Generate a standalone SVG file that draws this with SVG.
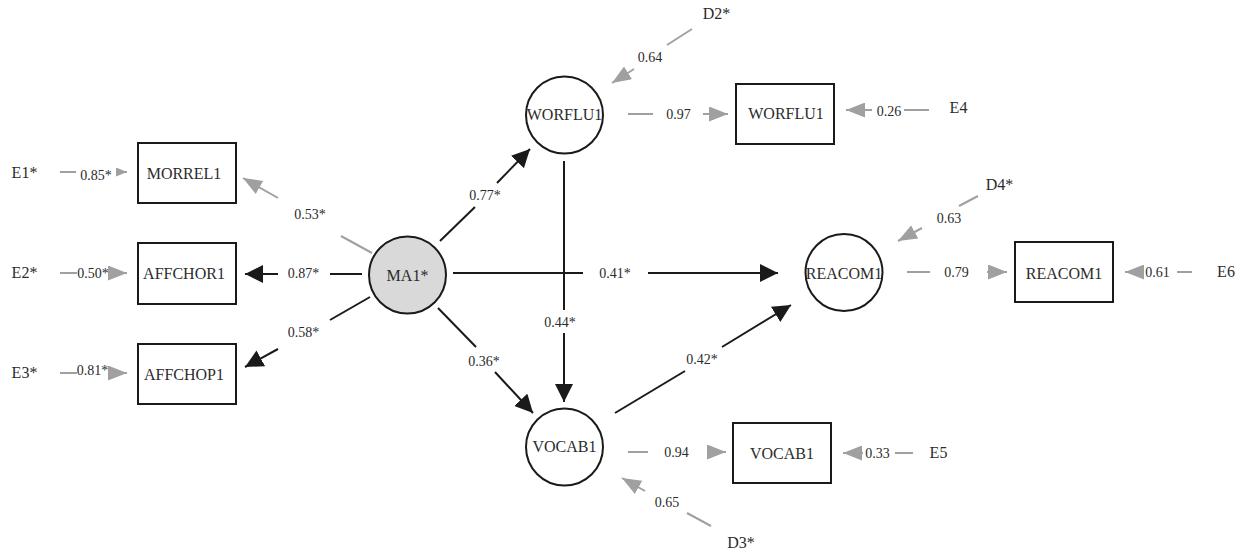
<svg xmlns="http://www.w3.org/2000/svg" width="1249" height="554" viewBox="0 0 1249 554">
<defs>
<marker id="ab" markerUnits="userSpaceOnUse" markerWidth="18" markerHeight="18" refX="18" refY="9" orient="auto"><path d="M0,0 L18,9 L0,18 z" fill="#1a1a1a"/></marker>
<marker id="ag" markerUnits="userSpaceOnUse" markerWidth="19" markerHeight="15" refX="19" refY="7.5" orient="auto"><path d="M0,0 L19,7.5 L0,15 z" fill="#a0a0a0"/></marker>
<marker id="as" markerUnits="userSpaceOnUse" markerWidth="11" markerHeight="9" refX="11" refY="4.5" orient="auto"><path d="M0,0 L11,4.5 L0,9 z" fill="#a0a0a0"/></marker>
</defs>
<style>
text{font-family:"Liberation Serif","Times New Roman",serif;fill:#2b2b2b;text-anchor:middle}
.n{font-size:16px}
.c{font-size:14px}
.box{fill:#fff;stroke:#1a1a1a;stroke-width:2}
.lat{fill:#fff;stroke:#1a1a1a;stroke-width:2}
.bl{stroke:#1a1a1a;stroke-width:2;fill:none}
.gl{stroke:#a0a0a0;stroke-width:2;fill:none}
</style>
<rect width="1249" height="554" fill="#fff"/>
<g id="connectors">
<!-- E1 -->
<line class="gl" x1="60" y1="172" x2="76" y2="172"/>
<text class="c" x="96" y="180">0.85*</text>
<line class="gl" x1="116" y1="172" x2="127" y2="172" marker-end="url(#as)"/>
<!-- E2 -->
<line class="gl" x1="60" y1="273" x2="77" y2="273"/>
<text class="c" x="93" y="278">0.50*</text>
<line class="gl" x1="109" y1="273" x2="127" y2="273" marker-end="url(#ag)"/>
<!-- E3 -->
<line class="gl" x1="60" y1="373" x2="77" y2="373"/>
<text class="c" x="92.5" y="375">0.81*</text>
<line class="gl" x1="108" y1="373" x2="127" y2="373" marker-end="url(#ag)"/>
<!-- MA1 -> MORREL1 -->
<line class="gl" x1="372" y1="253" x2="341" y2="236"/>
<text class="c" x="310" y="219">0.53*</text>
<line class="gl" x1="278" y1="198" x2="243" y2="178" marker-end="url(#ag)"/>
<!-- MA1 -> AFFCHOR1 -->
<line class="bl" x1="362" y1="274" x2="330" y2="274"/>
<text class="c" x="303.5" y="278">0.87*</text>
<line class="bl" x1="278" y1="274" x2="245" y2="274" marker-end="url(#ab)"/>
<!-- MA1 -> AFFCHOP1 -->
<line class="bl" x1="370" y1="297" x2="330" y2="320"/>
<text class="c" x="303.5" y="337">0.58*</text>
<line class="bl" x1="278" y1="349" x2="245" y2="367" marker-end="url(#ab)"/>
<!-- MA1 -> WORFLU1 -->
<line class="bl" x1="440" y1="241" x2="475" y2="207"/>
<text class="c" x="485" y="200">0.77*</text>
<line class="bl" x1="497" y1="183" x2="530" y2="149" marker-end="url(#ab)"/>
<!-- MA1 -> REACOM1 -->
<line class="bl" x1="453" y1="273" x2="583" y2="273"/>
<text class="c" x="615" y="278">0.41*</text>
<line class="bl" x1="648" y1="273" x2="778" y2="273" marker-end="url(#ab)"/>
<!-- MA1 -> VOCAB1 -->
<line class="bl" x1="438" y1="308" x2="476" y2="347"/>
<text class="c" x="484" y="366">0.36*</text>
<line class="bl" x1="495" y1="372" x2="533" y2="413" marker-end="url(#ab)"/>
<!-- WORFLU1 -> VOCAB1 -->
<line class="bl" x1="564" y1="161" x2="564" y2="310"/>
<text class="c" x="560" y="327">0.44*</text>
<line class="bl" x1="564" y1="333" x2="564" y2="402" marker-end="url(#ab)"/>
<!-- VOCAB1 -> REACOM1 -->
<line class="bl" x1="615" y1="413" x2="685" y2="371"/>
<text class="c" x="702" y="364">0.42*</text>
<line class="bl" x1="722" y1="347" x2="791" y2="305" marker-end="url(#ab)"/>
<!-- D2 -> WORFLU1 -->
<line class="gl" x1="692" y1="29" x2="667" y2="45"/>
<text class="c" x="650" y="62">0.64</text>
<line class="gl" x1="634" y1="69" x2="612" y2="83" marker-end="url(#ag)"/>
<!-- WORFLU1 -> box -->
<line class="gl" x1="628" y1="114" x2="653" y2="114"/>
<text class="c" x="678.5" y="119">0.97</text>
<line class="gl" x1="703" y1="114" x2="728" y2="114" marker-end="url(#ag)"/>
<!-- E4 -> box -->
<line class="gl" x1="872" y1="110" x2="846" y2="110" marker-end="url(#ag)"/>
<text class="c" x="889" y="116">0.26</text>
<line class="gl" x1="904" y1="110" x2="929" y2="110"/>
<!-- D4 -> REACOM1 -->
<line class="gl" x1="978" y1="196" x2="959" y2="206"/>
<text class="c" x="949" y="223">0.63</text>
<line class="gl" x1="922" y1="228" x2="898" y2="241" marker-end="url(#ag)"/>
<!-- REACOM1 -> box -->
<line class="gl" x1="907" y1="272" x2="930" y2="272"/>
<text class="c" x="956.5" y="277">0.79</text>
<line class="gl" x1="987" y1="272" x2="1007" y2="272" marker-end="url(#ag)"/>
<!-- E6 -> box -->
<line class="gl" x1="1143" y1="272" x2="1125" y2="272" marker-end="url(#ag)"/>
<text class="c" x="1157.5" y="277">0.61</text>
<line class="gl" x1="1177" y1="272" x2="1192" y2="272"/>
<!-- VOCAB1 -> box -->
<line class="gl" x1="628" y1="452" x2="648" y2="452"/>
<text class="c" x="676.5" y="457">0.94</text>
<line class="gl" x1="707" y1="452" x2="726" y2="452" marker-end="url(#ag)"/>
<!-- E5 -> box -->
<line class="gl" x1="863" y1="453" x2="843" y2="453" marker-end="url(#ag)"/>
<text class="c" x="877.5" y="458">0.33</text>
<line class="gl" x1="895" y1="453" x2="913" y2="453"/>
<!-- D3 -> VOCAB1 -->
<line class="gl" x1="711" y1="526" x2="687" y2="513"/>
<text class="c" x="667" y="507">0.65</text>
<line class="gl" x1="645" y1="491" x2="622" y2="478" marker-end="url(#ag)"/>
</g>
<g id="E1"><text class="n" x="24.5" y="178">E1*</text></g>
<g id="E2"><text class="n" x="24.5" y="278">E2*</text></g>
<g id="E3"><text class="n" x="24.5" y="378">E3*</text></g>
<g id="E4"><text class="n" x="958.5" y="113">E4</text></g>
<g id="E5"><text class="n" x="938.5" y="458">E5</text></g>
<g id="E6"><text class="n" x="1226" y="277">E6</text></g>
<g id="D2"><text class="n" x="716.5" y="19">D2*</text></g>
<g id="D3"><text class="n" x="741" y="548">D3*</text></g>
<g id="D4"><text class="n" x="999.5" y="190">D4*</text></g>
<g id="MORREL1"><rect class="box" x="138" y="143" width="98" height="60"/><text class="n" x="184" y="179">MORREL1</text></g>
<g id="AFFCHOR1"><rect class="box" x="138" y="243" width="98" height="61"/><text class="n" x="184" y="279">AFFCHOR1</text></g>
<g id="AFFCHOP1"><rect class="box" x="138" y="344" width="98" height="60"/><text class="n" x="184" y="380">AFFCHOP1</text></g>
<g id="MA1"><circle cx="407.5" cy="275" r="38.5" fill="#d9d9d9" stroke="#1a1a1a" stroke-width="2"/><text class="n" x="407.5" y="281">MA1*</text></g>
<g id="WORFLU1_latent"><circle class="lat" cx="564.5" cy="115" r="38.5"/><text class="n" x="564.5" y="120">WORFLU1</text></g>
<g id="WORFLU1_obs"><rect class="box" x="736" y="84" width="98" height="60"/><text class="n" x="786" y="119">WORFLU1</text></g>
<g id="REACOM1_latent"><circle class="lat" cx="844" cy="272.5" r="38.5"/><text class="n" x="844" y="279">REACOM1</text></g>
<g id="REACOM1_obs"><rect class="box" x="1015" y="242" width="98" height="60"/><text class="n" x="1064" y="279">REACOM1</text></g>
<g id="VOCAB1_latent"><circle class="lat" cx="564.5" cy="447" r="38.5"/><text class="n" x="564.5" y="452">VOCAB1</text></g>
<g id="VOCAB1_obs"><rect class="box" x="733" y="423" width="98" height="60"/><text class="n" x="782" y="459">VOCAB1</text></g>
</svg>
